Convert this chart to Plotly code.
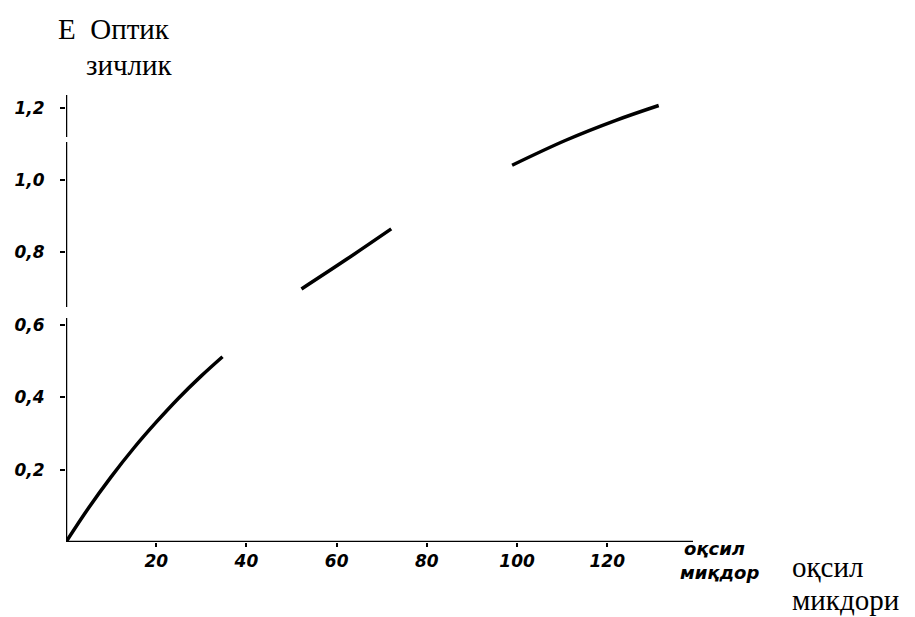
import plotly.graph_objects as go

# Data (curve broken into scanned segments)
seg1_x = [0, 5, 10, 15, 20, 25, 30, 34.7]
seg1_y = [0, 0.094, 0.180, 0.259, 0.331, 0.398, 0.459, 0.512]
seg2_x = [52.2, 62.2, 72.1]
seg2_y = [0.699, 0.781, 0.865]
seg3_x = [98.9, 110.8, 121.9, 131.4]
seg3_y = [1.041, 1.110, 1.165, 1.206]

x_ticks = [20, 40, 60, 80, 100, 120]
x_tick_labels = ["20", "40", "60", "80", "100", "120"]
y_ticks = [0.2, 0.4, 0.6, 0.8, 1.0, 1.2]
y_tick_labels = ["0,2", "0,4", "0,6", "0,8", "1,0", "1,2"]

# y-axis pieces (scan has small breaks)
y_axis_pieces = [(0, 0.619), (0.649, 1.105), (1.119, 1.235)]

X_MAX = 139
Y_MAX = 1.235

fig = go.Figure()
for sx, sy in [(seg1_x, seg1_y), (seg2_x, seg2_y), (seg3_x, seg3_y)]:
    fig.add_trace(go.Scatter(x=sx, y=sy, mode="lines",
                             line=dict(color="black", width=3.5, shape="spline"),
                             showlegend=False, hoverinfo="skip"))

for y0, y1 in y_axis_pieces:
    fig.add_shape(type="line", x0=0, x1=0, y0=y0, y1=y1, xref="x", yref="y",
                  line=dict(color="black", width=2.5))
fig.add_shape(type="line", x0=0, x1=X_MAX, y0=0, y1=0, xref="x", yref="y",
              line=dict(color="black", width=2.5))

tick_font = dict(family="DejaVu Sans", size=17, color="black", style="italic", weight="bold")

fig.update_xaxes(range=[0, X_MAX], tickvals=x_ticks, ticktext=x_tick_labels,
                 ticks="outside", ticklen=4, tickwidth=2, tickcolor="black",
                 showgrid=False, zeroline=False, showline=False, automargin=False,
                 tickfont=tick_font)
fig.update_yaxes(range=[0, Y_MAX], tickvals=y_ticks, ticktext=y_tick_labels,
                 ticks="outside", ticklen=5, tickwidth=2, tickcolor="black",
                 showgrid=False, zeroline=False, showline=False, automargin=False,
                 ticklabelstandoff=12, tickfont=tick_font)

serif = dict(family="Liberation Serif", size=29, color="black")
italic_label = dict(family="DejaVu Sans", size=18, color="black", style="italic", weight="bold")

# page-pixel geometry of the plot area (page has an 8px body margin)
PAGE_OFF = 8
W, H = 627, 447
L, T = 66, 95
def px(xp):
    return (xp - L) / W
def py(yp):
    return (T + H - yp) / H

annotations = [
    dict(text="Е  Оптик", x=px(56), y=py(29), xanchor="left", yanchor="middle", font=serif),
    dict(text="зичлик", x=px(84), y=py(65), xanchor="left", yanchor="middle", font=serif),
    dict(text="оқсил", x=px(790), y=py(567), xanchor="left", yanchor="middle", font=serif),
    dict(text="микдори", x=px(790), y=py(600), xanchor="left", yanchor="middle", font=serif),
    dict(text="оқсил", x=px(682), y=py(548), xanchor="left", yanchor="middle", font=italic_label),
    dict(text="миқдор", x=px(678), y=py(572), xanchor="left", yanchor="middle", font=italic_label),
]
for a in annotations:
    a.update(xref="paper", yref="paper", showarrow=False)

fig.update_layout(width=915 - PAGE_OFF, height=617 - PAGE_OFF,
                  margin=dict(l=L - PAGE_OFF, r=915 - L - W, t=T - PAGE_OFF, b=617 - T - H),
                  plot_bgcolor="white", paper_bgcolor="white", annotations=annotations)

fig.write_html("out.html")
